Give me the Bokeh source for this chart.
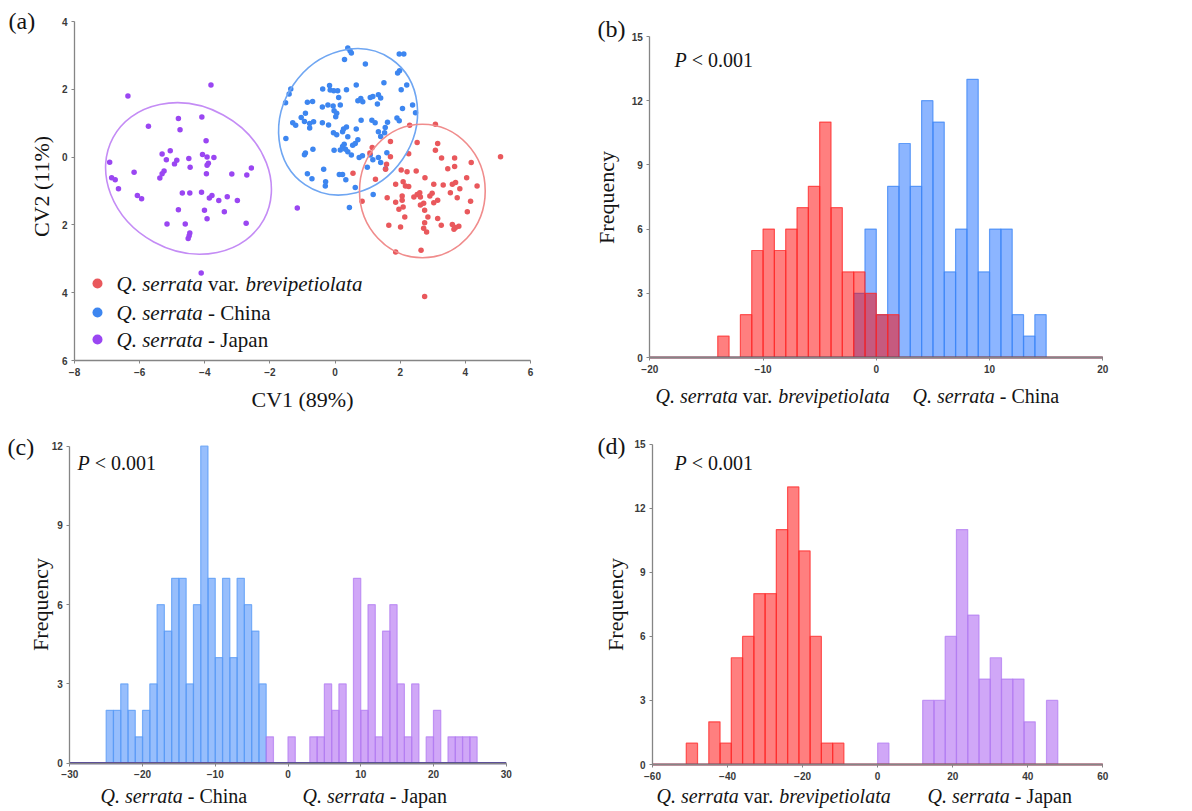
import math
from bokeh.plotting import figure
from bokeh.models import Range1d, Label, FixedTicker, LinearAxis
from bokeh.embed import file_html
from bokeh.resources import INLINE

# ---------------- data: panel (a) canonical scores ----------------
red_x = [2.29, 3.08, 1.70, 2.52, 3.15, 3.08, 1.14, 1.07, 1.70, 2.26, 3.27, 3.67, 4.18, 3.46, 3.67, 5.08,
         1.58, 1.55, 0.55, 2.03, 2.21, 2.49, 1.24, 2.76, 4.04, 1.86, 2.09, 2.16, 2.26, 3.03, 3.32, 3.60,
         3.70, 3.83, 4.36, 3.54, 3.75, 4.16, 0.83, 1.60, 1.86, 2.06, 2.06, 2.42, 2.52, 2.60, 2.62, 2.91,
         2.98, 2.72, 3.15, 2.62, 3.03, 1.96, 2.09, 2.75, 4.06, 2.14, 2.85, 3.15, 2.75, 1.65, 2.01, 3.26,
         3.60, 3.80, 3.65, 3.70, 2.72, 2.81, 1.86, 2.64, 2.75]
red_y = [0.94, 0.97, 0.46, 0.43, 0.40, 0.20, 0.28, 0.12, 0.01, 0.10, -0.03, -0.03, -0.16, -0.34, -0.28, 0.01,
         -0.21, -0.36, -0.48, -0.38, -0.43, -0.41, -0.65, -0.61, -0.61, -0.80, -0.73, -0.85, -0.87, -0.80, -0.82, -0.80,
         -0.75, -0.93, -0.85, -1.05, -1.20, -1.30, -1.30, -1.20, -1.33, -1.15, -1.27, -1.18, -1.10, -1.05, -1.18, -1.15,
         -1.07, -1.36, -1.27, -1.41, -1.35, -1.54, -1.47, -1.57, -1.61, -1.77, -1.77, -1.81, -1.94, -2.01, -2.06, -2.01,
         -1.99, -2.04, -2.13, -2.08, -2.10, -2.21, -2.80, -2.75, -4.11]

blue_x = [0.39, 0.46, 0.50, 0.29, 0.93, 1.97, 2.11, 1.98, 1.92, 1.50, 2.20, -1.36, -1.41, -1.52, -0.38, -0.17,
          -0.15, -0.04, 0.08, 0.35, 0.65, 2.03, 0.11, -0.85, -0.69, -0.39, -0.22, -0.06, 0.16, -0.03, 0.05, 0.70,
          0.79, 0.85, 1.08, 1.16, 1.33, 1.40, 1.30, 2.38, 2.07, -0.91, -1.04, -1.30, -1.21, -0.94, -0.78, -0.66,
          -0.39, 0.02, 0.35, 0.80, 1.13, 1.23, 1.61, 1.90, 1.97, 2.47, -0.78, 0.65, 1.54,
          -1.51, -0.05, 0.05, 0.23, 0.39, 0.70, 1.33, 0.28, 0.54, -0.91, -0.94, -0.68, -0.03, 0.16, 0.23, 0.39,
          0.50, 0.74, 0.84, 1.08, 1.16, 1.33, 1.40, 1.59, 0.99, -0.35, -0.85, -0.71, -0.29, -0.30, 0.13, 0.23,
          0.33, 0.62, 1.17, 0.44, 1.40, 1.55, 0.32, 0.26, 1.52, 0.62, -0.20]
blue_y = [3.22, 3.14, 3.07, 2.88, 2.75, 3.04, 3.04, 2.55, 2.48, 2.19, 2.13, 2.01, 1.86, 1.60, 2.01, 2.11,
          1.98, 1.96, 1.96, 1.99, 2.13, 1.99, 1.76, 1.62, 1.64, 1.48, 1.54, 1.51, 1.54, 1.37, 1.29, 1.66,
          1.73, 1.63, 1.76, 1.79, 1.84, 1.74, 1.57, 1.54, 1.43, 1.29, 1.17, 1.01, 0.94, 1.05, 0.99, 1.04,
          1.01, 1.19, 0.89, 1.09, 1.09, 1.01, 1.03, 1.15, 1.07, 1.31, 0.86, 0.83, 0.87,
          0.55, 0.72, 0.66, 0.75, 0.60, 0.51, 0.75, 0.38, 0.35, 0.12, 0.07, 0.23, 0.20, 0.21, 0.31, 0.16,
          0.06, -0.01, 0.04, 0.06, -0.08, -0.01, -0.16, 0.13, -0.30, -0.36, -0.49, -0.64, -0.73, -0.85, -0.51, -0.51,
          -0.67, -0.90, -1.10, -1.49, 0.61, -0.34, 0.23, 0.83, 0.72, 0.40, 0.95]

purple_x = [-6.36, -3.81, -5.73, -4.81, -4.09, -4.76, -3.96, -6.92, -5.31, -5.06, -5.18, -4.86, -4.93, -4.49,
            -4.07, -3.93, -3.72, -3.89, -4.45, -3.93, -6.86, -6.75, -6.17, -5.25, -5.31, -5.38, -3.95, -3.17,
            -2.71, -2.57, -6.65, -6.07, -5.94, -4.69, -4.46, -4.10, -3.78, -3.86, -3.57, -3.31, -3.00, -4.81,
            -4.01, -3.93, -3.40, -5.16, -4.60, -2.73, -4.46, -4.48, -4.51, -4.11, -1.16]
purple_y = [1.80, 2.13, 0.91, 1.14, 1.18, 0.81, 0.48, -0.15, 0.09, 0.19, -0.08, -0.09, -0.20, -0.04,
            0.08, 0.00, -0.01, -0.18, -0.30, -0.24, -0.61, -0.67, -0.45, -0.41, -0.49, -0.62, -0.49, -0.50,
            -0.53, -0.32, -0.93, -1.13, -1.23, -1.06, -1.06, -1.04, -1.13, -1.21, -1.28, -1.17, -1.28, -1.55,
            -1.57, -1.82, -1.61, -1.97, -1.97, -1.95, -2.24, -2.32, -2.40, -3.42, -1.50]

# 95% ellipses: centre x, centre y, width, height, angle (rad)
ell_red = [2.68, -1.00, 3.86, 3.94, 0.0]
ell_blue = [0.40, 1.04, 4.68, 3.90, 0.97]
ell_purple = [-4.50, -0.63, 5.27, 4.27, -0.50]

a_xticks = [-8, -6, -4, -2, 0, 2, 4, 6]
a_yticks = [-6, -4, -2, 0, 2, 4]
a_ylabels = ["6", "4", "2", "0", "2", "4"]

# ---------------- data: histograms (bin left edges + counts) ----------------
b_red_left = [-14, -13, -12, -11, -10, -9, -8, -7, -6, -5, -4, -3, -2, -1, 0, 1]
b_red_cnt = [1, 0, 2, 5, 6, 5, 6, 7, 8, 11, 7, 4, 4, 3, 2, 2]
b_blue_left = [-2, -1, 0, 1, 2, 3, 4, 5, 6, 7, 8, 9, 10, 11, 12, 13, 14]
b_blue_cnt = [3, 6, 2, 8, 10, 8, 12, 11, 4, 6, 13, 4, 6, 6, 2, 1, 2]
b_xticks = [-20, -10, 0, 10, 20]
b_yticks = [0, 3, 6, 9, 12, 15]

c_blue_left = [-25, -24, -23, -22, -21, -20, -19, -18, -17, -16, -15, -14, -13, -12, -11, -10, -9, -8,
               -7, -6, -5, -4]
c_blue_cnt = [2, 2, 3, 2, 1, 2, 3, 6, 5, 7, 7, 3, 6, 12, 7, 4, 7, 4, 7, 6, 5, 3]
c_purple_left = [-3, -2, -1, 0, 1, 2, 3, 4, 5, 6, 7, 8, 9, 10, 11, 12, 13, 14, 15, 16, 17, 18, 19, 20,
                 21, 22, 23, 24, 25]
c_purple_cnt = [1, 0, 0, 1, 0, 0, 1, 1, 3, 2, 3, 0, 7, 2, 6, 1, 5, 6, 3, 1, 3, 0, 1, 2, 0, 1, 1, 1, 1]
c_xticks = [-30, -20, -10, 0, 10, 20, 30]
c_yticks = [0, 3, 6, 9, 12]

d_red_left = [-51, -48, -45, -42, -39, -36, -33, -30, -27, -24, -21, -18, -15, -12]
d_red_cnt = [1, 0, 2, 1, 5, 6, 8, 8, 11, 13, 10, 6, 1, 1]
d_purple_left = [0, 3, 6, 9, 12, 15, 18, 21, 24, 27, 30, 33, 36, 39, 42, 45]
d_purple_cnt = [1, 0, 0, 0, 3, 3, 6, 11, 7, 4, 5, 4, 4, 2, 0, 3]
d_xticks = [-60, -40, -20, 0, 20, 40, 60]
d_yticks = [0, 3, 6, 9, 12, 15]

# ---------------- layout: one canvas, each panel on its own ranges ----------------
W, H = 1192, 811
OX, OY = 0, 0   # canvas origin in the screenshot


def make_map(x0, x1, px0, px1, y0, y1, py0, py1):
    sx = (px1 - px0) / (x1 - x0)
    sy = (py0 - py1) / (y1 - y0)
    xs = x0 - (px0 - OX) / sx
    ys = y0 - (OY + H - py0) / sy
    return dict(sx=sx, sy=sy, xs=xs, ys=ys, xe=xs + W / sx, ye=ys + H / sy)


MA = make_map(-8, 6, 74, 530, -6, 4, 360, 21)
MB = make_map(-20, 20, 649.3, 1102.3, 0, 15, 357, 36)
MC = make_map(-30, 30, 69.3, 505.7, 0, 12, 762.7, 445.7)
MD = make_map(-60, 60, 652, 1102.3, 0, 15, 764, 443.7)


def dx(px):
    return MA['xs'] + (px - OX) / MA['sx']


def dy(py):
    return MA['ys'] + (OY + H - py) / MA['sy']


SERIF = "Liberation Serif"
SANS = "Liberation Sans"
TXT = "#141414"
RED_PT, BLUE_PT, PURPLE_PT = "#e9585c", "#3d86f0", "#9a46f2"
RED_EL, BLUE_EL, PURPLE_EL = "#f08c8c", "#6fa6f2", "#c48cf5"

TR = {' ': 250, '-': 333, '.': 250, '<': 564, '0': 500, '1': 500, 'C': 667, 'h': 500, 'i': 278,
      'n': 500, 'a': 444, 'J': 389, 'p': 500, 'v': 500, 'r': 333}
TI = {'Q': 722, '.': 250, ' ': 250, 's': 389, 'e': 444, 'r': 389, 'a': 500, 't': 278, 'b': 500,
      'v': 444, 'i': 278, 'p': 500, 'o': 500, 'l': 278, 'P': 611}

p = figure(width=W, height=H, title=None,
           x_range=Range1d(MA['xs'], MA['xe']), y_range=Range1d(MA['ys'], MA['ye']),
           output_backend="svg", toolbar_location=None, min_border=0,
           x_axis_location=None, y_axis_location=None)
p.outline_line_color = None
p.xgrid.grid_line_color = None
p.ygrid.grid_line_color = None
p.background_fill_color = "white"
p.border_fill_color = "white"
for nm, M in (("b", MB), ("c", MC), ("d", MD)):
    p.extra_x_ranges[nm] = Range1d(M['xs'], M['xe'])
    p.extra_y_ranges[nm] = Range1d(M['ys'], M['ye'])


def style_axis(ax):
    ax.axis_line_color = "#858585"
    ax.axis_line_width = 1.3
    ax.major_tick_line_color = "#858585"
    ax.major_tick_out = 3
    ax.major_tick_in = 0
    ax.minor_tick_line_color = None
    ax.major_label_text_font = SANS
    ax.major_label_text_font_style = "bold"
    ax.major_label_text_font_size = "10px"
    ax.major_label_text_color = "#3a3a3a"
    ax.major_label_standoff = 4


def axes(rn, xt, yt, yover=None):
    xa = LinearAxis(x_range_name=rn, y_range_name=rn, fixed_location=yt[0],
                    bounds=(xt[0], xt[-1]), ticker=FixedTicker(ticks=xt))
    ya = LinearAxis(x_range_name=rn, y_range_name=rn, fixed_location=xt[0],
                    bounds=(yt[0], yt[-1]), ticker=FixedTicker(ticks=yt))
    style_axis(xa)
    style_axis(ya)
    if yover:
        ya.major_label_overrides = yover
    p.add_layout(xa, 'below')
    p.add_layout(ya, 'left')


def rich(px, py, parts, size):
    off = 0.0
    for txt, it in parts:
        tbl = TI if it else TR
        lead = len(txt) - len(txt.lstrip(' '))
        p.add_layout(Label(x=dx(px), y=dy(py), x_offset=off + lead * tbl[' '] * size / 1000.0,
                           text=txt.strip(), text_font=SERIF,
                           text_font_style='italic' if it else 'normal',
                           text_font_size=f"{size}px", text_color=TXT,
                           text_align='left', text_baseline='middle'))
        off += sum(tbl.get(c, 500) for c in txt) * size / 1000.0


def plain(px, py, txt, size, align='left', angle=0.0):
    p.add_layout(Label(x=dx(px), y=dy(py), text=txt, text_font=SERIF, text_font_size=f"{size}px",
                       text_color=TXT, text_align=align, text_baseline='middle', angle=angle))


def hist(rn, left, cnt, width, fill, line):
    L = [l for l, c in zip(left, cnt) if c > 0]
    R = [l + width for l, c in zip(left, cnt) if c > 0]
    T = [c for c in cnt if c > 0]
    p.quad(left=L, right=R, top=T, bottom=[0] * len(T), fill_color=fill, fill_alpha=0.5,
           line_color=line, line_alpha=0.75, line_width=1.2, x_range_name=rn, y_range_name=rn)


def baseline(rn, xt, color):
    p.line(x=[xt[0], xt[-1]], y=[0, 0], line_color=color, line_width=2.2,
           x_range_name=rn, y_range_name=rn)


# ---------------- panel (a) ----------------
axes("default", a_xticks, a_yticks, {t: s for t, s in zip(a_yticks, a_ylabels)})
p.scatter(purple_x, purple_y, size=5.5, fill_color=PURPLE_PT, line_color=None)
p.scatter(blue_x, blue_y, size=5.5, fill_color=BLUE_PT, line_color=None)
p.scatter(red_x, red_y, size=5.5, fill_color=RED_PT, line_color=None)
for e, c in ((ell_purple, PURPLE_EL), (ell_blue, BLUE_EL), (ell_red, RED_EL)):
    p.ellipse(x=[e[0]], y=[e[1]], width=[e[2]], height=[e[3]], angle=[e[4]],
              fill_color=None, line_color=c, line_width=1.6)

LEG_PX, LEG_TX = 97, 116
LEG_PY = [283, 312, 339]
p.scatter([dx(LEG_PX)] * 3, [dy(v) for v in LEG_PY], size=10,
          fill_color=[RED_PT, BLUE_PT, PURPLE_PT], line_color=None)
rich(LEG_TX, LEG_PY[0], [("Q. serrata", True), (" var. ", False), ("brevipetiolata", True)], 21)
rich(LEG_TX, LEG_PY[1], [("Q. serrata", True), (" - China", False)], 21)
rich(LEG_TX, LEG_PY[2], [("Q. serrata", True), (" - Japan", False)], 21)
plain(302, 399, "CV1 (89%)", 22, align='center')
plain(41, 186, "CV2 (11%)", 22, align='center', angle=math.pi / 2)
plain(8, 20, "(a)", 24)

# ---------------- panel (b) ----------------
axes("b", b_xticks, b_yticks)
hist("b", b_blue_left, b_blue_cnt, 1, "#1a6cff", "#3c86f5")
hist("b", b_red_left, b_red_cnt, 1, "#ff0000", "#ff2a2a")
baseline("b", b_xticks, "#7d2245")
rich(674, 59, [("P", True), (" < 0.001", False)], 20)
rich(655, 395, [("Q. serrata", True), (" var. ", False), ("brevipetiolata", True)], 20)
rich(912, 395, [("Q. serrata", True), (" - China", False)], 20)
plain(606, 197, "Frequency", 22, align='center', angle=math.pi / 2)
plain(597, 28, "(b)", 24)

# ---------------- panel (c) ----------------
axes("c", c_xticks, c_yticks)
hist("c", c_blue_left, c_blue_cnt, 1, "#2f7dfa", "#5a9bf6")
hist("c", c_purple_left, c_purple_cnt, 1, "#a24ff0", "#b37ef2")
baseline("c", c_xticks, "#4f3f9f")
rich(77, 462, [("P", True), (" < 0.001", False)], 20)
rich(100, 795, [("Q. serrata", True), (" - China", False)], 20)
rich(302, 795, [("Q. serrata", True), (" - Japan", False)], 20)
plain(40, 604, "Frequency", 22, align='center', angle=math.pi / 2)
plain(7, 446, "(c)", 24)

# ---------------- panel (d) ----------------
axes("d", d_xticks, d_yticks)
hist("d", d_red_left, d_red_cnt, 3, "#ff0000", "#ff2a2a")
hist("d", d_purple_left, d_purple_cnt, 3, "#a24ff0", "#b37ef2")
baseline("d", d_xticks, "#9a2c4c")
rich(674, 462, [("P", True), (" < 0.001", False)], 20)
rich(656, 795, [("Q. serrata", True), (" var. ", False), ("brevipetiolata", True)], 20)
rich(927, 795, [("Q. serrata", True), (" - Japan", False)], 20)
plain(615, 604, "Frequency", 22, align='center', angle=math.pi / 2)
plain(597, 445, "(d)", 24)

open("out.html", "w").write(file_html(p, INLINE))
